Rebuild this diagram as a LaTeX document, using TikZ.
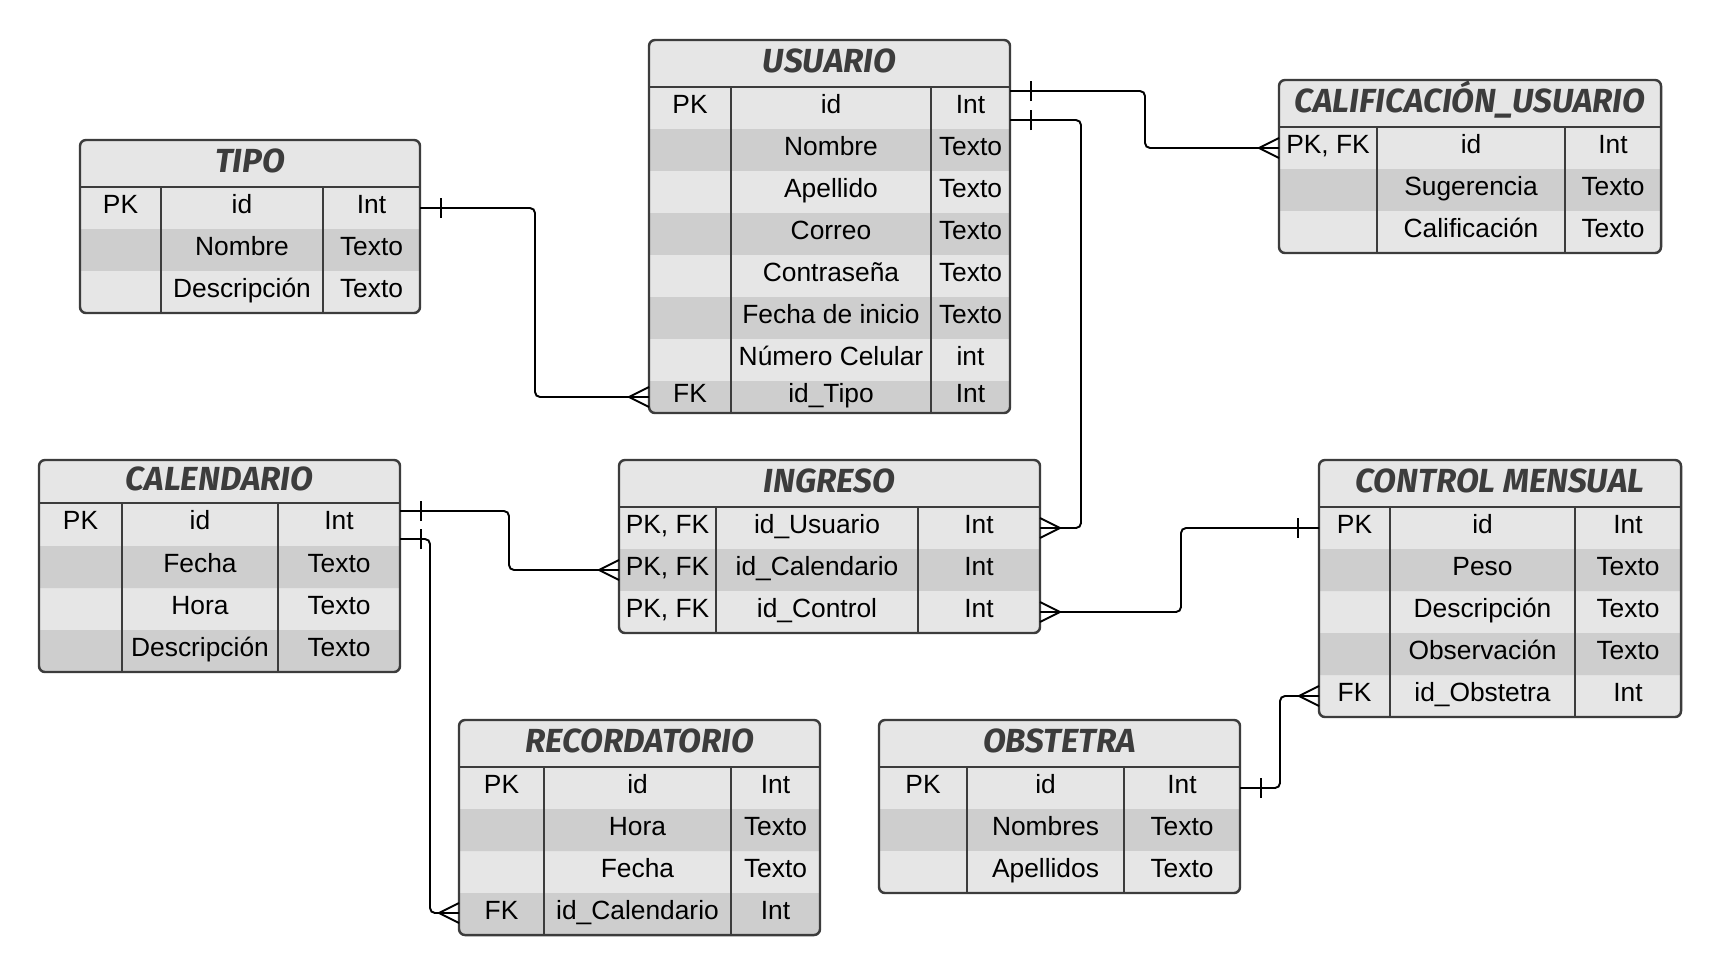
\documentclass[tikz,border=0pt]{standalone}
\usepackage{fontspec}
\setmainfont{Liberation Sans}
\newfontfamily\headfont{Fira Sans}
\usetikzlibrary{fit}
\definecolor{rowlite}{HTML}{E6E6E6}
\definecolor{rowdark}{HTML}{CECECE}
\definecolor{tabline}{HTML}{3C3C3C}

\begin{document}
\begin{tikzpicture}[x=0.02cm, y=-0.02cm,
    tbl/.style={draw=tabline, line width=1.4pt, rounded corners=0.12cm, inner sep=0pt, outer sep=0pt},
    colline/.style={draw=tabline, line width=1.4pt},
    tabtitle/.style={font=\headfont\bfseries\itshape\fontsize{19}{22}\selectfont, text=tabline, inner sep=0pt, text height=0.69em, text depth=0.1em, yshift=-0.075cm},
    celltext/.style={font=\fontsize{15}{18}\selectfont, inner sep=0pt, text height=0.716em, text depth=0.1em},
    rel/.style={line width=1.1pt, rounded corners=0.1cm},
    many/.pic={\draw[rel] (-20,0) -- (0,-10) (-20,0) -- (0,10);},
    one/.pic={\draw[rel] (-21,-10) -- (-21,10);}]

    \fill[white] (0,0) rectangle (1720,975);
    \useasboundingbox (0,0) rectangle (1720,975);

    % Tipo
    \begin{scope}
        \clip[rounded corners=0.12cm] (80,140) rectangle (420,313);
        \fill[rowlite] (80,140) rectangle (420,313);
        \fill[rowdark] (80,229) rectangle (420,271);
    \end{scope}
    \node[tbl, fit={(80,140) (420,313)}] (tipo) {};
    \draw[colline] (80,187) -- (420,187) (161,187) -- (161,313) (323,187) -- (323,313);
    \node[tabtitle] (tipo-t) at (250,163.5) {TIPO};
    \foreach \y/\pk/\fld/\typ [count=\i] in {208/PK/id/Int, 250//Nombre/Texto, 292//Descripción/Texto} {
        \node[celltext] (tipo-k\i) at (120.5,\y) {\pk};
        \node[celltext] (tipo-f\i) at (242,\y) {\fld};
        \node[celltext] (tipo-d\i) at (371.5,\y) {\typ};
    }

    % Usuario
    \begin{scope}
        \clip[rounded corners=0.12cm] (649,40) rectangle (1010,413);
        \fill[rowlite] (649,40) rectangle (1010,413);
        \foreach \y in {129,213,297,381} \fill[rowdark] (649,\y) rectangle (1010,\y+42);
    \end{scope}
    \node[tbl, fit={(649,40) (1010,413)}] (usuario) {};
    \draw[colline] (649,87) -- (1010,87) (731,87) -- (731,413) (931,87) -- (931,413);
    \node[tabtitle] (usuario-t) at (829.5,63.5) {USUARIO};
    \foreach \y/\pk/\fld/\typ [count=\i] in {108/PK/id/Int, 150//Nombre/Texto, 192//Apellido/Texto,
        234//Correo/Texto, 276//Contraseña/Texto, 318//Fecha de inicio/Texto,
        360//Número Celular/int, 397/FK/id\_Tipo/Int} {
        \node[celltext] (usu-k\i) at (690,\y) {\pk};
        \node[celltext] (usu-f\i) at (831,\y) {\fld};
        \node[celltext] (usu-d\i) at (970.5,\y) {\typ};
    }

    % Calificacion_Usuario
    \begin{scope}
        \clip[rounded corners=0.12cm] (1279,80) rectangle (1661,253);
        \fill[rowlite] (1279,80) rectangle (1661,253);
        \fill[rowdark] (1279,169) rectangle (1661,211);
    \end{scope}
    \node[tbl, fit={(1279,80) (1661,253)}] (calif) {};
    \draw[colline] (1279,127) -- (1661,127) (1377,127) -- (1377,253) (1565,127) -- (1565,253);
    \node[tabtitle] (calif-t) at (1470,103.5) {CALIFICACIÓN\_USUARIO};
    \foreach \y/\pk/\fld/\typ [count=\i] in {148/{PK, FK}/id/Int, 190//Sugerencia/Texto, 232//Calificación/Texto} {
        \node[celltext] (calif-k\i) at (1328,\y) {\pk};
        \node[celltext] (calif-f\i) at (1471,\y) {\fld};
        \node[celltext] (calif-d\i) at (1613,\y) {\typ};
    }

    % Calendario
    \begin{scope}
        \clip[rounded corners=0.12cm] (39,460) rectangle (400,672);
        \fill[rowlite] (39,460) rectangle (400,672);
        \fill[rowdark] (39,546) rectangle (400,588) (39,630) rectangle (400,672);
    \end{scope}
    \node[tbl, fit={(39,460) (400,672)}] (calendario) {};
    \draw[colline] (39,503) -- (400,503) (122,503) -- (122,672) (278,503) -- (278,672);
    \node[tabtitle] (calendario-t) at (219.5,481.5) {CALENDARIO};
    \foreach \y/\pk/\fld/\typ [count=\i] in {524.5/PK/id/Int, 567//Fecha/Texto, 609//Hora/Texto, 651//Descripción/Texto} {
        \node[celltext] (cale-k\i) at (80.5,\y) {\pk};
        \node[celltext] (cale-f\i) at (200,\y) {\fld};
        \node[celltext] (cale-d\i) at (339,\y) {\typ};
    }

    % Ingreso
    \begin{scope}
        \clip[rounded corners=0.12cm] (619,460) rectangle (1040,633);
        \fill[rowlite] (619,460) rectangle (1040,633);
        \fill[rowdark] (619,549) rectangle (1040,591);
    \end{scope}
    \node[tbl, fit={(619,460) (1040,633)}] (ingreso) {};
    \draw[colline] (619,507) -- (1040,507) (716,507) -- (716,633) (918,507) -- (918,633);
    \node[tabtitle] (ingreso-t) at (829.5,483.5) {INGRESO};
    \foreach \y/\pk/\fld/\typ [count=\i] in {528/{PK, FK}/id\_Usuario/Int, 570/{PK, FK}/id\_Calendario/Int, 612/{PK, FK}/id\_Control/Int} {
        \node[celltext] (ing-k\i) at (667.5,\y) {\pk};
        \node[celltext] (ing-f\i) at (817,\y) {\fld};
        \node[celltext] (ing-d\i) at (979,\y) {\typ};
    }

    % Control mensual
    \begin{scope}
        \clip[rounded corners=0.12cm] (1319,460) rectangle (1681,717);
        \fill[rowlite] (1319,460) rectangle (1681,717);
        \fill[rowdark] (1319,549) rectangle (1681,591) (1319,633) rectangle (1681,675);
    \end{scope}
    \node[tbl, fit={(1319,460) (1681,717)}] (control) {};
    \draw[colline] (1319,507) -- (1681,507) (1390,507) -- (1390,717) (1575,507) -- (1575,717);
    \node[tabtitle] (control-t) at (1500,483.5) {CONTROL MENSUAL};
    \foreach \y/\pk/\fld/\typ [count=\i] in {528/PK/id/Int, 570//Peso/Texto, 612//Descripción/Texto,
        654//Observación/Texto, 696/FK/id\_Obstetra/Int} {
        \node[celltext] (ctrl-k\i) at (1354.5,\y) {\pk};
        \node[celltext] (ctrl-f\i) at (1482.5,\y) {\fld};
        \node[celltext] (ctrl-d\i) at (1628,\y) {\typ};
    }

    % Recordatorio
    \begin{scope}
        \clip[rounded corners=0.12cm] (459,720) rectangle (820,935);
        \fill[rowlite] (459,720) rectangle (820,935);
        \fill[rowdark] (459,809) rectangle (820,851) (459,893) rectangle (820,935);
    \end{scope}
    \node[tbl, fit={(459,720) (820,935)}] (recordatorio) {};
    \draw[colline] (459,767) -- (820,767) (544,767) -- (544,935) (731,767) -- (731,935);
    \node[tabtitle] (recordatorio-t) at (639.5,743.5) {RECORDATORIO};
    \foreach \y/\pk/\fld/\typ [count=\i] in {788/PK/id/Int, 830//Hora/Texto, 872//Fecha/Texto, 914/FK/id\_Calendario/Int} {
        \node[celltext] (rec-k\i) at (501.5,\y) {\pk};
        \node[celltext] (rec-f\i) at (637.5,\y) {\fld};
        \node[celltext] (rec-d\i) at (775.5,\y) {\typ};
    }

    % Obstetra
    \begin{scope}
        \clip[rounded corners=0.12cm] (879,720) rectangle (1240,893);
        \fill[rowlite] (879,720) rectangle (1240,893);
        \fill[rowdark] (879,809) rectangle (1240,851);
    \end{scope}
    \node[tbl, fit={(879,720) (1240,893)}] (obstetra) {};
    \draw[colline] (879,767) -- (1240,767) (967,767) -- (967,893) (1124,767) -- (1124,893);
    \node[tabtitle] (obstetra-t) at (1059.5,743.5) {OBSTETRA};
    \foreach \y/\pk/\fld/\typ [count=\i] in {788/PK/id/Int, 830//Nombres/Texto, 872//Apellidos/Texto} {
        \node[celltext] (obs-k\i) at (923,\y) {\pk};
        \node[celltext] (obs-f\i) at (1045.5,\y) {\fld};
        \node[celltext] (obs-d\i) at (1182,\y) {\typ};
    }

    % Connection points
    \coordinate (tipo-pk) at (tipo.east |- 0,208);
    \coordinate (usu-fk) at (usuario.west |- 0,397);
    \coordinate (usu-pk1) at (usuario.east |- 0,91);
    \coordinate (usu-pk2) at (usuario.east |- 0,120);
    \coordinate (calif-pk) at (calif.west |- 0,148);
    \coordinate (cale-pk1) at (calendario.east |- 0,511);
    \coordinate (cale-pk2) at (calendario.east |- 0,539);
    \coordinate (ing-usu) at (ingreso.east |- 0,528);
    \coordinate (ing-cal) at (ingreso.west |- 0,570);
    \coordinate (ing-ctl) at (ingreso.east |- 0,612);
    \coordinate (ctrl-pk) at (control.west |- 0,528);
    \coordinate (ctrl-fk) at (control.west |- 0,696);
    \coordinate (rec-fk) at (recordatorio.west |- 0,913);
    \coordinate (obs-pk) at (obstetra.east |- 0,788);

    % Relations
    \draw[rel] (tipo-pk) -| (535,397) -- (usu-fk);
    \pic[rotate=180] at (tipo-pk) {one};
    \pic at (usu-fk) {many};

    \draw[rel] (usu-pk1) -| (1145,148) -- (calif-pk);
    \pic[rotate=180] at (usu-pk1) {one};
    \pic at (calif-pk) {many};

    \draw[rel] (usu-pk2) -| (1081,528) -- (ing-usu);
    \pic[rotate=180] at (usu-pk2) {one};
    \pic[rotate=180] at (ing-usu) {many};

    \draw[rel] (cale-pk1) -| (509,570) -- (ing-cal);
    \pic[rotate=180] at (cale-pk1) {one};
    \pic at (ing-cal) {many};

    \draw[rel] (cale-pk2) -| (430,913) -- (rec-fk);
    \pic[rotate=180] at (cale-pk2) {one};
    \pic at (rec-fk) {many};

    \draw[rel] (ctrl-pk) -| (1181,612) -- (ing-ctl);
    \pic at (ctrl-pk) {one};
    \pic[rotate=180] at (ing-ctl) {many};

    \draw[rel] (obs-pk) -| (1280,696) -- (ctrl-fk);
    \pic[rotate=180] at (obs-pk) {one};
    \pic at (ctrl-fk) {many};
\end{tikzpicture}
\end{document}
